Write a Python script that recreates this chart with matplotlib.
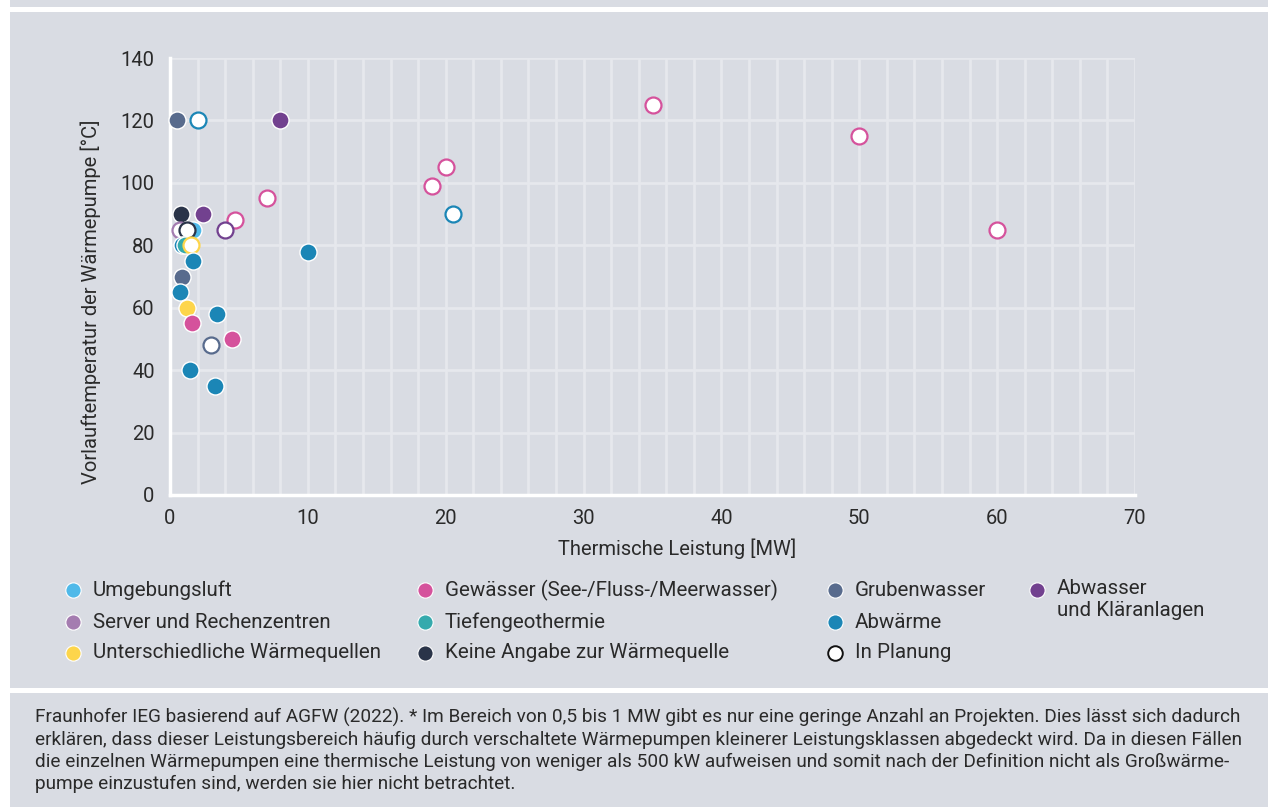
import matplotlib
matplotlib.use("Agg")
import matplotlib.pyplot as plt
from matplotlib.lines import Line2D
from matplotlib.patches import Rectangle

plt.rcParams['font.family'] = ['Roboto', 'DejaVu Sans']
plt.rcParams['font.weight'] = 'normal'

# ---------------- data ----------------
sources = ["Umgebungsluft", "Server und Rechenzentren", "Unterschiedliche Wärmequellen",
           "Gewässer (See-/Fluss-/Meerwasser)", "Tiefengeothermie", "Keine Angabe zur Wärmequelle",
           "Grubenwasser", "Abwärme", "Abwasser\nund Kläranlagen"]
source_colors = {
    "Umgebungsluft": "#4fb9e9",
    "Server und Rechenzentren": "#a47cb0",
    "Unterschiedliche Wärmequellen": "#fdd54b",
    "Gewässer (See-/Fluss-/Meerwasser)": "#d5529c",
    "Tiefengeothermie": "#35aaad",
    "Keine Angabe zur Wärmequelle": "#2a3449",
    "Grubenwasser": "#586b8d",
    "Abwärme": "#1b86b6",
    "Abwasser\nund Kläranlagen": "#72418f",
}

power_mw = [0.5, 2.0, 8.0, 7.0, 0.8, 2.4, 4.7, 4.0, 0.7, 1.7, 1.2, 0.85, 1.1, 1.5,
            1.7, 0.9, 0.75, 1.2, 3.4, 1.6, 4.5, 3.0, 1.45, 3.3, 10.0, 19.0, 20.0,
            20.5, 35.0, 50.0, 60.0]
temp_c = [120, 120, 120, 95, 90, 90, 88, 85, 85, 85, 85, 80, 80, 80,
          75, 70, 65, 60, 58, 55, 50, 48, 40, 35, 78, 99, 105,
          90, 125, 115, 85]
source = ["Grubenwasser", "Abwärme", "Abwasser\nund Kläranlagen", "Gewässer (See-/Fluss-/Meerwasser)",
          "Keine Angabe zur Wärmequelle", "Abwasser\nund Kläranlagen", "Gewässer (See-/Fluss-/Meerwasser)",
          "Abwasser\nund Kläranlagen", "Server und Rechenzentren", "Umgebungsluft",
          "Keine Angabe zur Wärmequelle", "Abwärme", "Tiefengeothermie", "Unterschiedliche Wärmequellen",
          "Abwärme", "Grubenwasser", "Abwärme", "Unterschiedliche Wärmequellen", "Abwärme",
          "Gewässer (See-/Fluss-/Meerwasser)", "Gewässer (See-/Fluss-/Meerwasser)", "Grubenwasser",
          "Abwärme", "Abwärme", "Abwärme", "Gewässer (See-/Fluss-/Meerwasser)",
          "Gewässer (See-/Fluss-/Meerwasser)", "Abwärme", "Gewässer (See-/Fluss-/Meerwasser)",
          "Gewässer (See-/Fluss-/Meerwasser)", "Gewässer (See-/Fluss-/Meerwasser)"]
planned = [False, True, False, True, False, False, True, True, True, False, True, False, False, True,
           False, False, False, False, False, False, False, True, False, False, False, True, True,
           True, True, True, True]

x_ticks = [0, 10, 20, 30, 40, 50, 60, 70]
y_ticks = [0, 20, 40, 60, 80, 100, 120, 140]
x_label = "Thermische Leistung [MW]"
y_label = "Vorlauftemperatur der Wärmepumpe [°C]"
planned_label = "In Planung"
footnote = ("Fraunhofer IEG basierend auf AGFW (2022). * Im Bereich von 0,5 bis 1 MW gibt es nur eine geringe Anzahl an Projekten. Dies lässt sich dadurch\n"
            "erklären, dass dieser Leistungsbereich häufig durch verschaltete Wärmepumpen kleinerer Leistungsklassen abgedeckt wird. Da in diesen Fällen\n"
            "die einzelnen Wärmepumpen eine thermische Leistung von weniger als 500 kW aufweisen und somit nach der Definition nicht als Großwärme-\n"
            "pumpe einzustufen sind, werden sie hier nicht betrachtet.")

# ---------------- figure ----------------
W, H = 1268, 807
BG = "#d9dce3"
GRID = "#e6e8ed"
TXT = "#2a2a2a"

fig = plt.figure(figsize=(W / 100, H / 100), dpi=100)
fig.patch.set_facecolor(BG)

def fx(px):
    return px / W

def fy(py):
    return 1 - py / H

# white frame strips
fig.patches.append(Rectangle((0, 0), fx(10), 1, transform=fig.transFigure, facecolor="white", edgecolor="none", zorder=0))
fig.patches.append(Rectangle((0, fy(12)), 1, fy(7) - fy(12), transform=fig.transFigure, facecolor="white", edgecolor="none", zorder=0))
fig.patches.append(Rectangle((0, fy(693)), 1, fy(688) - fy(693), transform=fig.transFigure, facecolor="white", edgecolor="none", zorder=0))

ax = fig.add_axes([fx(170), fy(495), fx(1135) - fx(170), fy(58) - fy(495)])
ax.set_facecolor(BG)
ax.set_xlim(0, 70)
ax.set_ylim(0, 140)
ax.set_xticks(x_ticks)
ax.set_yticks(y_ticks)
ax.set_xticks(range(0, 71, 2), minor=True)
ax.grid(True, which="both", axis="x", color=GRID, linewidth=2.0, zorder=0)
ax.grid(True, which="major", axis="y", color=GRID, linewidth=2.0, zorder=0)
ax.set_axisbelow(True)
for s in ["top", "right"]:
    ax.spines[s].set_visible(False)
for s in ["left", "bottom"]:
    ax.spines[s].set_color("white")
    ax.spines[s].set_linewidth(2.5)
ax.tick_params(which="both", length=0, labelsize=14.5, labelcolor=TXT, pad=10)
ax.tick_params(axis="y", pad=11)
ax.set_xlabel(x_label, fontsize=14.5, color=TXT)
ax.set_ylabel(y_label, fontsize=14.5, color=TXT)
ax.xaxis.set_label_coords((677 - 170) / (1135 - 170), -(538 - 495) / (495 - 58))
ax.yaxis.set_label_coords(-(170 - 101) / (1135 - 170), (495 - 302) / (495 - 58))

MS = 12.3
for i, (xv, yv, src, pl) in enumerate(zip(power_mw, temp_c, source, planned)):
    c = source_colors[src]
    if pl:
        ax.plot([xv], [yv], marker="o", linestyle="none", markersize=MS - 0.8,
                markerfacecolor="white", markeredgecolor=c, markeredgewidth=1.6,
                zorder=3 + i * 0.01, clip_on=False)
    else:
        ax.plot([xv], [yv], marker="o", linestyle="none", markersize=MS,
                markerfacecolor=c, markeredgecolor="white", markeredgewidth=1.0,
                zorder=3 + i * 0.01, clip_on=False)

# ---------------- legend (manual) ----------------
col_x = [73, 425, 835, 1037]
row_y = [590, 622, 653]
entries = [(s, source_colors[s], False) for s in sources] + [(planned_label, "#111111", True)]
positions = [(0, 0), (0, 1), (0, 2), (1, 0), (1, 1), (1, 2), (2, 0), (2, 1), (3, 0), (2, 2)]
for (lab, col, pl), (ci, ri) in zip(entries, positions):
    mx, my = col_x[ci], row_y[ri]
    if pl:
        fig.add_artist(Line2D([fx(mx)], [fy(my)], marker="o", linestyle="none", markersize=10.5,
                              markerfacecolor="white", markeredgecolor=col, markeredgewidth=1.4,
                              transform=fig.transFigure))
    else:
        fig.add_artist(Line2D([fx(mx)], [fy(my)], marker="o", linestyle="none", markersize=11,
                              markerfacecolor=col, markeredgecolor="white", markeredgewidth=0.8,
                              transform=fig.transFigure))
    multiline = "\n" in lab
    ty = fy(my - 11) if multiline else fy(my)
    fig.text(fx(mx + 20), ty, lab, fontsize=14.8, color=TXT, ha="left",
             va="top" if multiline else "center", linespacing=1.22)

fig.text(fx(35), fy(708), footnote, fontsize=13.65, color=TXT, ha="left", va="top", linespacing=1.27)

fig.savefig("out.png", dpi=100, facecolor=fig.get_facecolor())
